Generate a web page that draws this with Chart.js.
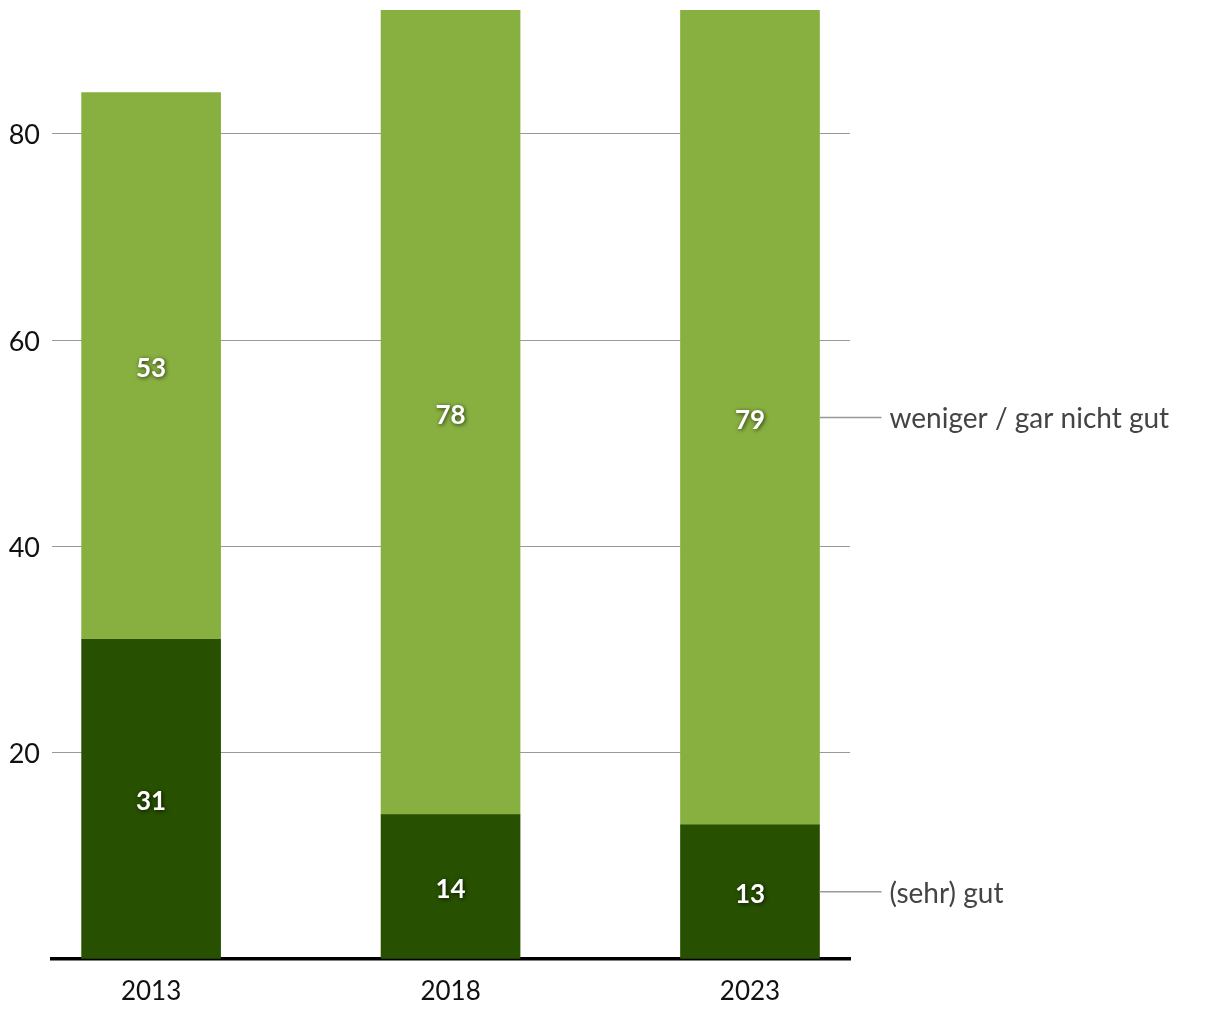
<!DOCTYPE html>
<html>
<head>
<meta charset="utf-8">
<script src="https://cdn.jsdelivr.net/npm/chart.js@4"></script>
<style>
  body { margin: 0; background: #fff; }
  #wrap { width: 1220px; height: 1020px; }
</style>
</head>
<body>
<div id="wrap"><canvas id="barChart"></canvas></div>
<script>
const years = ["2013", "2018", "2023"];
const gut = [31, 14, 13];
const nichtGut = [53, 78, 79];
const seriesNames = ["(sehr) gut", "weniger / gar nicht gut"];
const yTicks = [20, 40, 60, 80];

const FONT = "Lato, 'Source Sans Pro', sans-serif";

// white numbers in the middle of each segment
const valueLabels = {
    id: "valueLabels",
    afterDatasetsDraw(chart) {
        const ctx = chart.ctx;
        ctx.save();
        ctx.font = "bold 26px " + FONT;
        ctx.textAlign = "center";
        ctx.textBaseline = "middle";
        ctx.fillStyle = "#fff";
        ctx.shadowColor = "rgba(0,0,0,0.7)";
        ctx.shadowBlur = 4;
        ctx.shadowOffsetX = 1;
        ctx.shadowOffsetY = 1;
        chart.data.datasets.forEach((ds, di) => {
            chart.getDatasetMeta(di).data.forEach((el, i) => {
                ctx.fillText(ds.data[i].y, el.x, (el.y + el.base) / 2 + 3);
            });
        });
        ctx.restore();
    }
};

// series names to the right of the last bar
const seriesLabels = {
    id: "seriesLabels",
    afterDatasetsDraw(chart) {
        const ctx = chart.ctx;
        ctx.save();
        ctx.font = "28px " + FONT;
        ctx.textAlign = "left";
        ctx.textBaseline = "middle";
        chart.data.datasets.forEach((ds, di) => {
            const els = chart.getDatasetMeta(di).data;
            const el = els[els.length - 1];
            const y = (el.y + el.base) / 2;
            const x0 = el.x + el.width / 2;
            ctx.strokeStyle = "#999";
            ctx.lineWidth = 1.5;
            ctx.beginPath();
            ctx.moveTo(x0, y);
            ctx.lineTo(x0 + 62, y);
            ctx.stroke();
            ctx.fillStyle = "#444";
            ctx.fillText(ds.label, x0 + 70, y + 2);
        });
        ctx.restore();
    }
};

new Chart(document.getElementById("barChart").getContext("2d"), {
    type: "bar",
    data: {
        datasets: [{
            label: seriesNames[0],
            data: gut.map((v, i) => ({ x: i, y: v })),
            backgroundColor: "#275000",
            barThickness: 139
        }, {
            label: seriesNames[1],
            data: nichtGut.map((v, i) => ({ x: i, y: v })),
            backgroundColor: "#88b040",
            barThickness: 139
        }]
    },
    options: {
        responsive: true,
        maintainAspectRatio: false,
        animation: false,
        layout: { padding: { top: 10, right: 370, left: 0, bottom: 0 } },
        plugins: {
            legend: { display: false },
            tooltip: { enabled: false }
        },
        scales: {
            x: {
                type: "linear",
                stacked: true,
                offset: false,
                min: -0.331,
                max: 2.334,
                afterBuildTicks: s => { s.ticks = years.map((y, i) => ({ value: i })); },
                afterFit: s => { s.height = 61; s.paddingLeft = 0; s.paddingRight = 0; },
                ticks: {
                    callback: v => years[v],
                    font: { family: FONT, size: 26 },
                    color: "#111",
                    padding: 17,
                    maxRotation: 0
                },
                grid: { display: false, drawTicks: false },
                border: { display: true, color: "#000", width: 3.5 }
            },
            y: {
                stacked: true,
                min: 0,
                max: 92,
                afterBuildTicks: s => { s.ticks = [0].concat(yTicks).map(v => ({ value: v })); },
                afterFit: s => { s.width = 52; s.paddingTop = 0; s.paddingBottom = 0; },
                ticks: {
                    callback: v => (v === 0 ? "" : v),
                    font: { family: FONT, size: 27 },
                    color: "#111",
                    padding: 12,
                    labelOffset: 2
                },
                grid: { color: "#999", lineWidth: 1, drawTicks: false },
                border: { display: false }
            }
        }
    },
    plugins: [valueLabels, seriesLabels]
});
</script>
</body>
</html>
